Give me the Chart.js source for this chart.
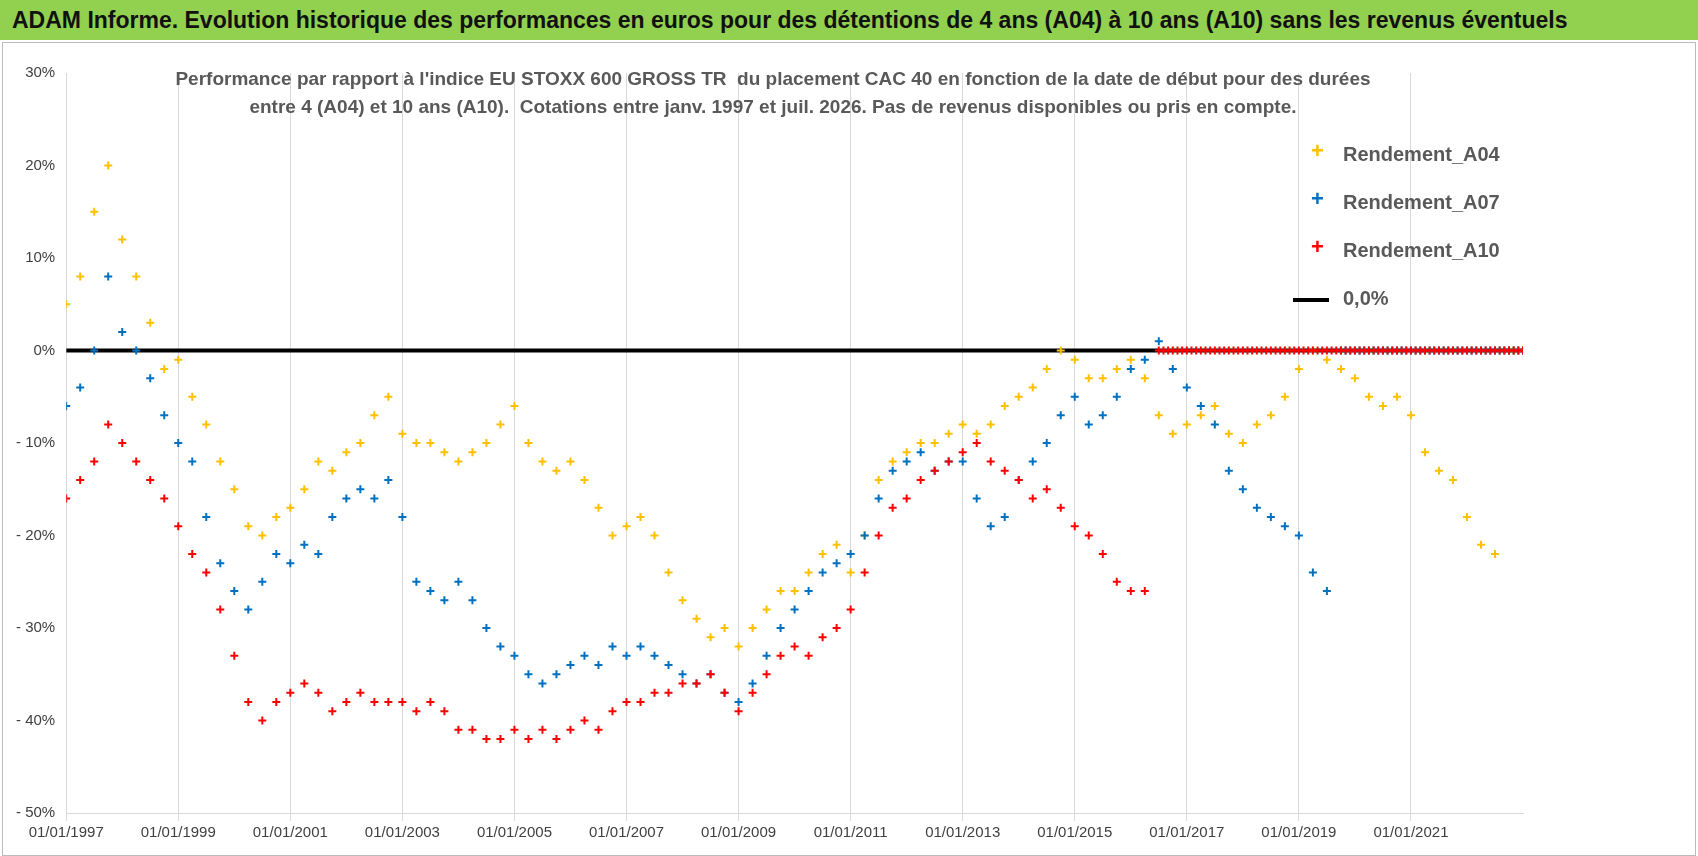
<!DOCTYPE html>
<html><head><meta charset="utf-8">
<script src="https://cdn.jsdelivr.net/npm/chart.js@4"></script>
<style>
body{margin:0;background:#fff;font-family:"Liberation Sans",Arial,sans-serif;}
#title{position:absolute;left:0;top:0;width:1698px;height:40px;background:#92d050;color:#111;font-weight:bold;font-size:23px;line-height:40px;padding-left:12px;box-sizing:border-box;font-family:"Liberation Sans Narrow","Liberation Sans",sans-serif;}
#wrap{position:absolute;left:2px;top:42px;width:1692px;height:812px;border:1px solid #bbb;}
#sub{position:absolute;left:0;top:22px;width:1540px;text-align:center;color:#595959;font-weight:bold;font-size:19px;line-height:28px;font-family:"Liberation Sans Narrow","Liberation Sans",sans-serif;}
#leg{position:absolute;left:1290px;top:100px;color:#595959;font-weight:bold;font-size:20px;font-family:"Liberation Sans Narrow","Liberation Sans",sans-serif;}
#leg div{height:48px;position:relative;padding-left:50px;}
#leg span{position:absolute;left:18px;top:-5px;font-size:22px;}
</style></head><body>
<div id="title">ADAM Informe. Evolution historique des performances en euros pour des détentions de 4 ans (A04) à 10 ans (A10) sans les revenus éventuels</div>
<div id="wrap"><canvas id="c" width="1692" height="812"></canvas>
<div id="sub">Performance par rapport à l'indice EU STOXX 600 GROSS TR&nbsp; du placement CAC 40 en fonction de la date de début pour des durées<br>entre 4 (A04) et 10 ans (A10).&nbsp; Cotations entre janv. 1997 et juil. 2026. Pas de revenus disponibles ou pris en compte.</div>
<div id="leg">
<div><span style="color:#ffc000">+</span>Rendement_A04</div>
<div><span style="color:#0070c0">+</span>Rendement_A07</div>
<div><span style="color:#ff0000">+</span>Rendement_A10</div>
<div><span style="left:0;top:11px;width:36px;height:4px;background:#000"></span>0,0%</div>
</div></div>
<script>
const startYear=1997, step=0.25, endYear=2023;
const tickYears=[1997,1999,2001,2003,2005,2007,2009,2011,2013,2015,2017,2019,2021];
const A04=[5,8,15,20,12,8,3,-2,-1,-5,-8,-12,-15,-19,-20,-18,-17,-15,-12,-13,-11,-10,-7,-5,-9,-10,-10,-11,-12,-11,-10,-8,-6,-10,-12,-13,-12,-14,-17,-20,-19,-18,-20,-24,-27,-29,-31,-30,-32,-30,-28,-26,-26,-24,-22,-21,-24,-20,-14,-12,-11,-10,-10,-9,-8,-9,-8,-6,-5,-4,-2,0,-1,-3,-3,-2,-1,-3,-7,-9,-8,-7,-6,-9,-10,-8,-7,-5,-2,0,-1,-2,-3,-5,-6,-5,-7,-11,-13,-14,-18,-21,-22];
const A07=[-6,-4,0,8,2,0,-3,-7,-10,-12,-18,-23,-26,-28,-25,-22,-23,-21,-22,-18,-16,-15,-16,-14,-18,-25,-26,-27,-25,-27,-30,-32,-33,-35,-36,-35,-34,-33,-34,-32,-33,-32,-33,-34,-35,-36,-35,-37,-38,-36,-33,-30,-28,-26,-24,-23,-22,-20,-16,-13,-12,-11,-13,-12,-12,-16,-19,-18,-14,-12,-10,-7,-5,-8,-7,-5,-2,-1,1,-2,-4,-6,-8,-13,-15,-17,-18,-19,-20,-24,-26];
const A10=[-16,-14,-12,-8,-10,-12,-14,-16,-19,-22,-24,-28,-33,-38,-40,-38,-37,-36,-37,-39,-38,-37,-38,-38,-38,-39,-38,-39,-41,-41,-42,-42,-41,-42,-41,-42,-41,-40,-41,-39,-38,-38,-37,-37,-36,-36,-35,-37,-39,-37,-35,-33,-32,-33,-31,-30,-28,-24,-20,-17,-16,-14,-13,-12,-11,-10,-12,-13,-14,-16,-15,-17,-19,-20,-22,-25,-26,-26];
function pts(arr){const p=arr.map((v,i)=>({x:startYear+i*step,y:v}));
  for(let t=startYear+arr.length*step;t<=endYear+1e-9;t+=step/3)p.push({x:t,y:0});return p;}
const ds=(l,a,c,o)=>({label:l,order:o,data:pts(a),showLine:false,pointStyle:'cross',pointRadius:4,pointBorderWidth:2,borderColor:c,backgroundColor:c});
new Chart(document.getElementById('c'),{type:'scatter',
data:{datasets:[
 {label:'0,0%',order:4,data:[{x:startYear,y:0},{x:endYear,y:0}],showLine:true,borderColor:'#000',borderWidth:4,pointRadius:0},
 ds('Rendement_A04',A04,'#ffc000',3),ds('Rendement_A07',A07,'#0070c0',2),ds('Rendement_A10',A10,'#ff0000',1)]},
options:{responsive:false,animation:false,layout:{padding:{left:10,right:172,top:30,bottom:10}},
plugins:{legend:{display:false},tooltip:{enabled:false}},
scales:{x:{type:'linear',min:startYear,max:endYear,afterBuildTicks:s=>{s.ticks=tickYears.map(v=>({value:v}));},
  ticks:{callback:v=>'01/01/'+v,color:'#404040',font:{size:15,family:'Liberation Sans'},maxRotation:0},
  grid:{color:'#d9d9d9'},border:{color:'#d9d9d9'}},
 y:{min:-50,max:30,ticks:{stepSize:10,callback:v=>v<0?'- '+(-v)+'%':v+'%',color:'#404040',font:{size:15,family:'Liberation Sans'}},
  grid:{display:false},border:{display:false}}}}});
</script></body></html>
